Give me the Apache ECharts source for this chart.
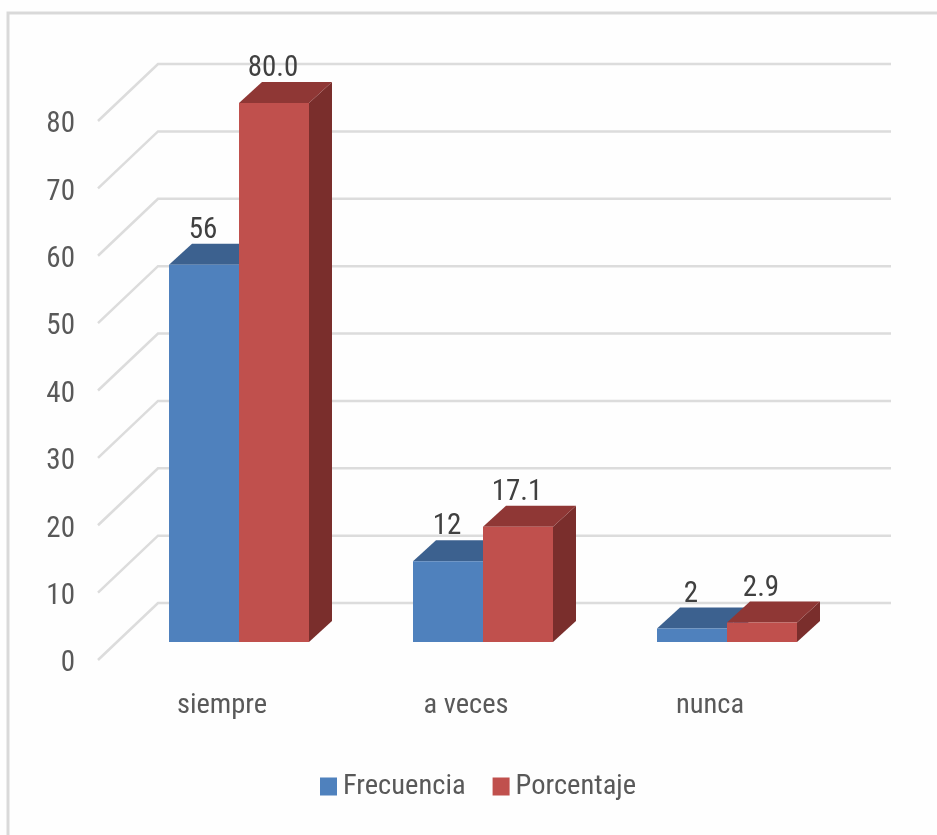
<!DOCTYPE html>
<html>
<head>
<meta charset="utf-8">
<style>html,body{margin:0;padding:0;background:#fff}#c{width:937px;height:835px}</style>
<script src="https://cdn.jsdelivr.net/npm/echarts@6/dist/echarts.min.js"></script>
</head>
<body>
<div id="c"></div>
<script>
const categories = ['siempre', 'a veces', 'nunca'];
const frecuencia = [56, 12, 2];
const porcentaje = [80.0, 17.1, 2.9];
const frecuenciaLabels = ['56', '12', '2'];
const porcentajeLabels = ['80.0', '17.1', '2.9'];
const gridTicks = [0, 10, 20, 30, 40, 50, 60, 70, 80];

const FONT = '"Roboto Condensed", "Open Sans", sans-serif';
const BAR_W = 70, DX = 23, DY = 21;

const chart = echarts.init(document.getElementById('c'), null, {renderer: 'canvas'});

function bar3d(side, colors, labels) {
  return function (params, api) {
    const i = api.value(0), v = api.value(1);
    const top = api.coord([i, v]);
    const base = api.coord([i, 0]);
    const x0 = side === 0 ? top[0] - BAR_W : top[0];
    const x1 = x0 + BAR_W;
    const y0 = top[1], y1 = base[1];
    return {type: 'group', children: [
      {type: 'polygon', shape: {points: [[x1, y0], [x1 + DX, y0 - DY], [x1 + DX, y1 - DY], [x1, y1]]},
        style: {fill: colors.side}},
      {type: 'polygon', shape: {points: [[x0, y0], [x0 + DX, y0 - DY], [x1 + DX, y0 - DY], [x1, y0]]},
        style: {fill: colors.top}},
      {type: 'rect', shape: {x: x0, y: y0, width: BAR_W, height: y1 - y0},
        style: {fill: colors.face}},
      {type: 'text', z2: 10, x: (x0 + x1) / 2 - 1, y: y0 - 34,
        style: {text: labels[i], fontFamily: FONT, fontSize: 29, fill: '#404040', align: 'center', verticalAlign: 'middle'}}
    ]};
  };
}

chart.setOption({
  animation: false,
  backgroundColor: '#fefefe',
  grid: [
    {left: 117, width: 732, top: 103, height: 539},
    {left: 100, width: 732, top: 125, height: 539}
  ],
  xAxis: [
    {type: 'category', gridIndex: 0, data: categories, axisLine: {show: false}, axisTick: {show: false}, axisLabel: {show: false}},
    {type: 'category', gridIndex: 1, data: categories, axisLine: {show: false}, axisTick: {show: false},
      axisLabel: {margin: 27, fontFamily: FONT, fontSize: 28.5, color: '#595959'}}
  ],
  yAxis: [
    {type: 'value', gridIndex: 0, min: 0, max: 80, interval: 10, axisLine: {show: false}, axisTick: {show: false}, axisLabel: {show: false}, splitLine: {show: false}},
    {type: 'value', gridIndex: 1, min: 0, max: 80, interval: 10, axisLine: {show: false}, axisTick: {show: false}, splitLine: {show: false},
      axisLabel: {margin: 25, fontFamily: FONT, fontSize: 29, color: '#595959'}}
  ],
  legend: {
    left: 320, top: 772, padding: 0, itemWidth: 17, itemHeight: 18, itemGap: 27, icon: 'rect',
    data: ['Frecuencia', 'Porcentaje'],
    textStyle: {fontFamily: FONT, fontSize: 28.5, color: '#595959', padding: [0, 0, 0, 1]}
  },
  graphic: [
    {type: 'polyline', silent: true, z: 0, shape: {points: [[8, 835], [8, 13], [937, 13]]},
      style: {fill: null, stroke: '#d9d9d9', lineWidth: 3}}
  ],
  series: [
    {
      type: 'custom', name: 'grid', silent: true, z: 1, xAxisIndex: 0, yAxisIndex: 0,
      data: gridTicks.map(v => [0, v]),
      renderItem: function (params, api) {
        const y = api.coord([0, api.value(1)])[1];
        const g = params.coordSys;
        return {type: 'polyline',
          shape: {points: [[g.x - 19, y + 18], [g.x + 41, y - 39], [g.x + g.width + 42, y - 39]]},
          style: {fill: null, stroke: '#dcdcdc', lineWidth: 2.5}};
      }
    },
    {
      type: 'custom', name: 'Frecuencia', z: 2, xAxisIndex: 0, yAxisIndex: 0,
      itemStyle: {color: '#4f81bd'},
      data: frecuencia.map((v, i) => [i, v]),
      renderItem: bar3d(0, {face: '#4f81bd', top: '#3c618f', side: '#376092'}, frecuenciaLabels)
    },
    {
      type: 'custom', name: 'Porcentaje', z: 3, xAxisIndex: 0, yAxisIndex: 0,
      itemStyle: {color: '#c0504d'},
      data: porcentaje.map((v, i) => [i, v]),
      renderItem: bar3d(1, {face: '#c0504d', top: '#8f3735', side: '#7a2e2c'}, porcentajeLabels)
    }
  ]
});
</script>
</body>
</html>
